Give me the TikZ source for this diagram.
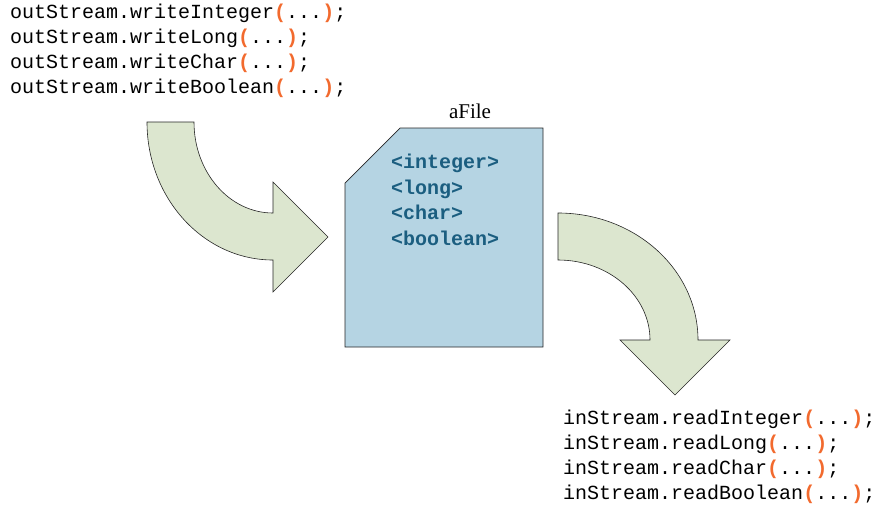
\documentclass[tikz,border=0pt]{standalone}
\usepackage{fontspec}
\setmainfont{Liberation Serif}
\newfontfamily\codefont{Liberation Mono}
\definecolor{parencol}{HTML}{F26A2E}
\definecolor{tagcol}{HTML}{1B5E80}
\definecolor{filecol}{HTML}{B5D4E3}
\definecolor{arrowcol}{HTML}{DCE6CF}
\newcommand{\callargs}{\textcolor{parencol}{\textbf{(}}...\textcolor{parencol}{\textbf{)}};}

\begin{document}
\begin{tikzpicture}[x=1pt, y=-1pt,
      code/.style={align=left, anchor=north west, inner sep=0pt, font=\codefont\fontsize{20}{25}\selectfont},
      tags/.style={align=left, anchor=north west, inner sep=0pt, text=tagcol, font=\codefont\bfseries\fontsize{20}{25.5}\selectfont},
      bigarrow/.style={draw=black!85, fill=arrowcol, line width=0.6pt, line join=miter},
      filebox/.style={draw=black!85, fill=filecol, line width=0.7pt}]
    \useasboundingbox (0,0) rectangle (874,506);
    % write side
    \node[code] (writes) at (10,3.5) {outStream.writeInteger\callargs\\outStream.writeLong\callargs\\outStream.writeChar\callargs\\outStream.writeBoolean\callargs};
    \draw[bigarrow] (147,122) -- (194,122)
      arc[start angle=180, end angle=90, x radius=79, y radius=91]
      -- (273,182) -- (328,237) -- (273,292) -- (273,260)
      arc[start angle=90, end angle=180, x radius=126, y radius=138] -- cycle;
    % the file
    \draw[filebox] (400,128) -- (543,128) -- (543,347) -- (345,347) -- (345,183) -- cycle;
    \node[font=\fontsize{21}{24}\selectfont] (fname) at (470,111) {aFile};
    \node[tags] (content) at (391,154) {<integer>\\<long>\\<char>\\<boolean>};
    % read side
    \draw[bigarrow] (558,213)
      arc[start angle=270, end angle=360, x radius=140, y radius=127]
      -- (730,340) -- (675,395) -- (620,340) -- (650,340)
      arc[start angle=0, end angle=-90, x radius=92, y radius=80] -- cycle;
    \node[code] (reads) at (563,410) {inStream.readInteger\callargs\\inStream.readLong\callargs\\inStream.readChar\callargs\\inStream.readBoolean\callargs};
  \end{tikzpicture}
\end{document}
